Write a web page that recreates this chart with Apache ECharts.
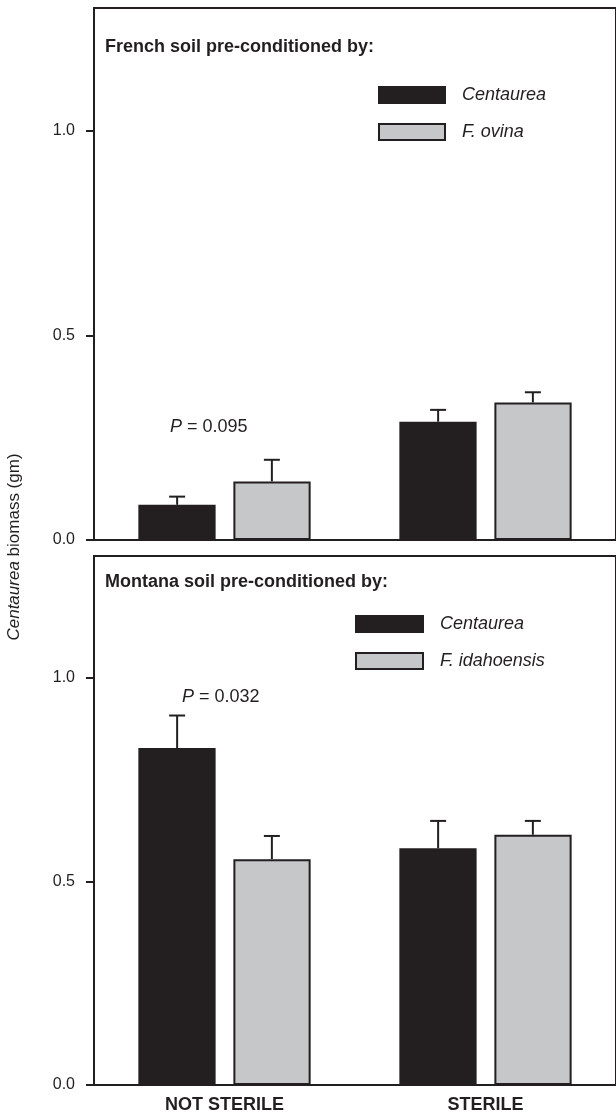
<!DOCTYPE html>
<html>
<head>
<meta charset="utf-8">
<script src="https://cdn.jsdelivr.net/npm/echarts@6/dist/echarts.min.js"></script>
<style>
html,body{margin:0;padding:0;background:#fff;}
#chart{width:616px;height:1115px;}
</style>
</head>
<body>
<div id="chart"></div>
<script>
var categories = ['NOT STERILE', 'STERILE'];
var yTicks = [0, 0.5, 1.0];

var frenchCentaurea = [0.086, 0.289];
var frenchCentaureaErr = [0.020, 0.029];
var frenchOvina = [0.143, 0.336];
var frenchOvinaErr = [0.053, 0.025];

var montanaCentaurea = [0.828, 0.582];
var montanaCentaureaErr = [0.080, 0.067];
var montanaIdaho = [0.555, 0.615];
var montanaIdahoErr = [0.057, 0.034];

var INK = '#231f20';
var GRAY = '#c6c7c9';
var FONT = '"Liberation Sans", Arial, Helvetica, sans-serif';

function errData(vals, errs) {
  return vals.map(function (v, i) { return [i, v, v + errs[i]]; });
}
function errRender(frac) {
  return function (params, api) {
    var x = api.value(0);
    var p1 = api.coord([x, api.value(1)]);
    var p2 = api.coord([x, api.value(2)]);
    var band = api.size([1, 0])[0];
    var cx = p1[0] + band * frac;
    var st = { stroke: INK, lineWidth: 2 };
    return {
      type: 'group',
      children: [
        { type: 'line', shape: { x1: cx, y1: p1[1], x2: cx, y2: p2[1] }, style: st },
        { type: 'line', shape: { x1: cx - 8, y1: p2[1], x2: cx + 8, y2: p2[1] }, style: st }
      ]
    };
  };
}

function xAxisCfg(idx, showLabels) {
  return {
    type: 'category', gridIndex: idx, data: categories,
    axisLine: { show: true, lineStyle: { color: INK, width: 2 } },
    axisTick: { show: false },
    axisLabel: { show: showLabels, color: INK, fontFamily: FONT, fontWeight: 'bold', fontSize: 18, margin: 11 }
  };
}
function yAxisCfg(idx) {
  return {
    type: 'value', gridIndex: idx, min: 0, max: 1.3, interval: 0.5,
    splitLine: { show: false },
    axisLine: { show: true, lineStyle: { color: INK, width: 2 } },
    axisTick: { show: true, inside: false, length: 8, lineStyle: { color: INK, width: 2 }, customValues: yTicks },
    axisLabel: {
      color: INK, fontFamily: FONT, fontSize: 16, margin: 19,
      customValues: yTicks,
      formatter: function (v) { return v.toFixed(1); }
    }
  };
}

var BW = '29.6%', GAP = '23%';
var barStyle = function (c) { return { color: c, borderColor: INK, borderWidth: 2 }; };
var legendText = { color: INK, fontFamily: FONT, fontStyle: 'italic', fontSize: 18, padding: [0, 0, 0, 12] };

var option = {
  backgroundColor: '#fff',
  animation: false,
  grid: [
    { left: 94, top: 8, width: 527, height: 532, show: true, borderColor: INK, borderWidth: 2, backgroundColor: 'transparent' },
    { left: 94, top: 556, width: 527, height: 529, show: true, borderColor: INK, borderWidth: 2, backgroundColor: 'transparent' }
  ],
  xAxis: [xAxisCfg(0, false), xAxisCfg(1, true)],
  yAxis: [yAxisCfg(0), yAxisCfg(1)],
  legend: [
    {
      data: ['Centaurea', 'F. ovina'], orient: 'vertical', left: 373, top: 81, icon: 'rect',
      itemWidth: 66, itemHeight: 16, itemGap: 19, selectedMode: false, textStyle: legendText
    },
    {
      data: ['Centaurea', 'F. idahoensis'], orient: 'vertical', left: 350, top: 610, icon: 'rect',
      itemWidth: 67, itemHeight: 16, itemGap: 19, selectedMode: false, textStyle: legendText
    }
  ],
  series: [
    { name: 'Centaurea', type: 'bar', xAxisIndex: 0, yAxisIndex: 0, data: frenchCentaurea, barWidth: BW, barGap: GAP, itemStyle: barStyle(INK) },
    { name: 'F. ovina', type: 'bar', xAxisIndex: 0, yAxisIndex: 0, data: frenchOvina, barWidth: BW, barGap: GAP, itemStyle: barStyle(GRAY) },
    { name: 'Centaurea', type: 'bar', xAxisIndex: 1, yAxisIndex: 1, data: montanaCentaurea, barWidth: BW, barGap: GAP, itemStyle: barStyle(INK) },
    { name: 'F. idahoensis', type: 'bar', xAxisIndex: 1, yAxisIndex: 1, data: montanaIdaho, barWidth: BW, barGap: GAP, itemStyle: barStyle(GRAY) },
    { type: 'custom', xAxisIndex: 0, yAxisIndex: 0, data: errData(frenchCentaurea, frenchCentaureaErr), renderItem: errRender(-0.1815), encode: { x: 0, y: [1, 2] }, z: 5 },
    { type: 'custom', xAxisIndex: 0, yAxisIndex: 0, data: errData(frenchOvina, frenchOvinaErr), renderItem: errRender(0.1815), encode: { x: 0, y: [1, 2] }, z: 5 },
    { type: 'custom', xAxisIndex: 1, yAxisIndex: 1, data: errData(montanaCentaurea, montanaCentaureaErr), renderItem: errRender(-0.1815), encode: { x: 0, y: [1, 2] }, z: 5 },
    { type: 'custom', xAxisIndex: 1, yAxisIndex: 1, data: errData(montanaIdaho, montanaIdahoErr), renderItem: errRender(0.1815), encode: { x: 0, y: [1, 2] }, z: 5 }
  ],
  graphic: [
    { type: 'text', x: 105, y: 47, style: { text: 'French soil pre-conditioned by:', fill: INK, font: 'bold 18px ' + FONT, textVerticalAlign: 'middle' } },
    { type: 'text', x: 105, y: 582, style: { text: 'Montana soil pre-conditioned by:', fill: INK, font: 'bold 18px ' + FONT, textVerticalAlign: 'middle' } },
    { type: 'text', x: 170, y: 427, style: { text: '{i|P} = 0.095', fill: INK, font: '18px ' + FONT, textVerticalAlign: 'middle', rich: { i: { fontStyle: 'italic', fontSize: 18, fontFamily: FONT } } } },
    { type: 'text', x: 182, y: 697, style: { text: '{i|P} = 0.032', fill: INK, font: '18px ' + FONT, textVerticalAlign: 'middle', rich: { i: { fontStyle: 'italic', fontSize: 18, fontFamily: FONT } } } },
    { type: 'text', x: 14, y: 547, rotation: Math.PI / 2, style: { text: '{i|Centaurea} biomass (gm)', fill: INK, font: '17px ' + FONT, textAlign: 'center', textVerticalAlign: 'middle', rich: { i: { fontStyle: 'italic', fontSize: 17, fontFamily: FONT } } } }
  ]
};

var chart = echarts.init(document.getElementById('chart'), null, { renderer: 'canvas' });
chart.setOption(option);
</script>
</body>
</html>
